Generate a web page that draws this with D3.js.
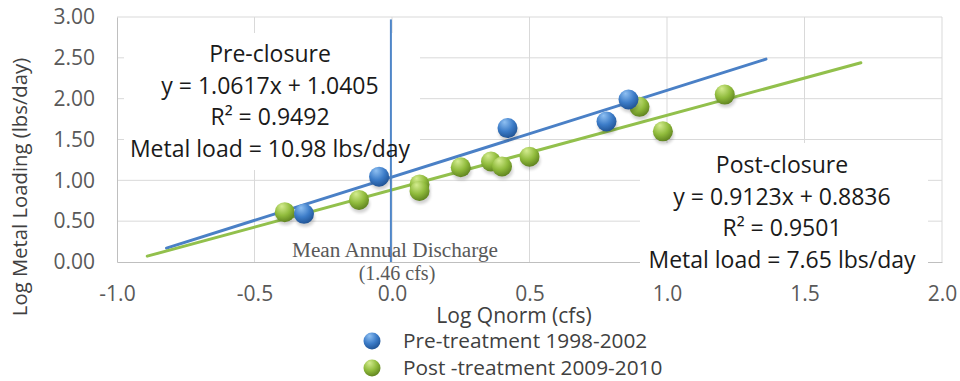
<!DOCTYPE html>
<html>
<head>
<meta charset="utf-8">
<script src="https://cdn.jsdelivr.net/npm/d3@7"></script>
<style>
html,body{margin:0;padding:0;background:#fff;}
svg{display:block;font-family:"Open Sans",sans-serif;}
</style>
</head>
<body>
<svg id="chart" width="960" height="381"></svg>
<script>
// ---- data ----
const preX = [-0.32, -0.047, 0.42, 0.78, 0.86];
const preY = [0.59, 1.045, 1.64, 1.72, 1.99];
const postX = [-0.39, -0.12, 0.10, 0.10, 0.25, 0.36, 0.40, 0.50, 0.90, 0.985, 1.21];
const postY = [0.61, 0.76, 0.95, 0.87, 1.16, 1.23, 1.17, 1.29, 1.90, 1.60, 2.05];
const preFit = {slope: 1.0617, intercept: 1.0405, x0: -0.82, x1: 1.36};
const postFit = {slope: 0.9123, intercept: 0.8836, x0: -0.89, x1: 1.705};
const meanDischargeX = -0.004;
const xTicks = [-1.0, -0.5, 0.0, 0.5, 1.0, 1.5, 2.0];
const yTicks = [0.0, 0.5, 1.0, 1.5, 2.0, 2.5, 3.0];
const preLabel = ["Pre-closure", "y = 1.0617x + 1.0405", "R² = 0.9492", "Metal load = 10.98 lbs/day"];
const postLabel = ["Post-closure", "y = 0.9123x + 0.8836", "R² = 0.9501", "Metal load = 7.65 lbs/day"];
const legendLabels = ["Pre-treatment 1998-2002", "Post -treatment 2009-2010"];

const svg = d3.select("#chart");
const x = d3.scaleLinear().domain([-1, 2]).range([117, 942]);
const y = d3.scaleLinear().domain([0, 3]).range([262, 17]);

// gradients
const defs = svg.append("defs");
function sphere(id, hi, base, dark) {
  const g = defs.append("radialGradient").attr("id", id)
    .attr("cx", "40%").attr("cy", "30%").attr("r", "75%").attr("fx", "35%").attr("fy", "20%");
  g.append("stop").attr("offset", "0%").attr("stop-color", hi);
  g.append("stop").attr("offset", "55%").attr("stop-color", base);
  g.append("stop").attr("offset", "100%").attr("stop-color", dark);
}
sphere("gBlue", "#8fc0f2", "#3c7cc8", "#1d4f8f");
sphere("gGreen", "#d4ec90", "#90bb3c", "#5a7d1c");
defs.append("filter").attr("id", "shadow").append("feGaussianBlur").attr("stdDeviation", 1.5);

// gridlines
const grid = svg.append("g");
grid.selectAll("line.h").data(yTicks.filter(d => d > 0)).join("line")
  .attr("x1", x(-1)).attr("x2", x(2)).attr("y1", d => y(d)).attr("y2", d => y(d))
  .attr("stroke", "#d9d9d9").attr("stroke-width", 1);
grid.selectAll("line.v").data(xTicks.filter(d => d > -1)).join("line")
  .attr("x1", d => x(d)).attr("x2", d => x(d)).attr("y1", y(0)).attr("y2", y(3))
  .attr("stroke", "#d9d9d9").attr("stroke-width", 1);

// axes
const yAxis = svg.append("g").attr("transform", `translate(${x(-1)},0)`)
  .call(d3.axisLeft(y).tickValues(yTicks).tickSize(0).tickPadding(22).tickFormat(d => d.toFixed(2)));
const xAxis = svg.append("g").attr("transform", `translate(0,${y(0)})`)
  .call(d3.axisBottom(x).tickValues(xTicks).tickSize(0).tickFormat(d => d.toFixed(1)));
[yAxis, xAxis].forEach(a => {
  a.select(".domain").attr("stroke", "#bfbfbf").attr("stroke-width", 1);
  a.selectAll("text").attr("fill", "#595959").attr("font-size", 21).attr("font-family", "Open Sans");
});
xAxis.selectAll("text").attr("y", 38.5).attr("dy", 0);

// annotation boxes
svg.append("rect").attr("x", 124).attr("y", 33).attr("width", 296).attr("height", 137).attr("fill", "#fff");
svg.append("rect").attr("x", 640).attr("y", 143).attr("width", 288).attr("height", 136).attr("fill", "#fff");

// trendlines
function fitLine(f, color) {
  svg.append("line")
    .attr("x1", x(f.x0)).attr("y1", y(f.slope * f.x0 + f.intercept))
    .attr("x2", x(f.x1)).attr("y2", y(f.slope * f.x1 + f.intercept))
    .attr("stroke", color).attr("stroke-width", 3).attr("stroke-linecap", "round");
}
fitLine(preFit, "#4a80c6");
fitLine(postFit, "#92c04c");

// mean discharge line
svg.append("line").attr("x1", x(meanDischargeX)).attr("x2", x(meanDischargeX))
  .attr("y1", y(0)).attr("y2", y(2.97)).attr("stroke", "#4f86c8").attr("stroke-width", 2);

// points
function points(xs, ys, grad) {
  const data = xs.map((v, i) => [v, ys[i]]);
  const g = svg.append("g");
  g.selectAll("ellipse").data(data).join("ellipse")
    .attr("cx", d => x(d[0]) + 1).attr("cy", d => y(d[1]) + 4).attr("rx", 10).attr("ry", 9)
    .attr("fill", "#000").attr("opacity", 0.18).attr("filter", "url(#shadow)");
  g.selectAll("circle").data(data).join("circle")
    .attr("cx", d => x(d[0])).attr("cy", d => y(d[1])).attr("r", 10)
    .attr("fill", `url(#${grad})`);
}
points(postX, postY, "gGreen");
points(preX, preY, "gBlue");

// annotation texts
function label(lines, cx, y0) {
  svg.append("g").selectAll("text").data(lines).join("text")
    .attr("x", cx).attr("y", (d, i) => y0 + i * 31.7)
    .attr("text-anchor", "middle").attr("font-size", 23).attr("fill", "#1a1a1a")
    .text(d => d);
}
label(preLabel, 270, 62);
label(postLabel, 782, 173);

// mean annual discharge text
svg.append("text").attr("x", 395).attr("y", 257).attr("text-anchor", "middle")
  .attr("font-family", "Liberation Serif").attr("font-size", 20).attr("fill", "#595959")
  .attr("textLength", 206).attr("lengthAdjust", "spacingAndGlyphs").text("Mean Annual Discharge");
svg.append("text").attr("x", 397).attr("y", 280).attr("text-anchor", "middle")
  .attr("font-family", "Liberation Serif").attr("font-size", 20).attr("fill", "#595959")
  .text("(1.46 cfs)");

// axis titles
svg.append("text").attr("transform", "translate(27,187) rotate(-90)").attr("text-anchor", "middle")
  .attr("font-size", 20.3).attr("fill", "#404040").text("Log Metal Loading (lbs/day)");
svg.append("text").attr("x", 514).attr("y", 323).attr("text-anchor", "middle")
  .attr("font-size", 21).attr("fill", "#404040").text("Log Qnorm (cfs)");

// legend
const lg = svg.append("g");
lg.selectAll("circle").data(legendLabels).join("circle")
  .attr("cx", 372).attr("cy", (d, i) => 341 + i * 27).attr("r", 8.5)
  .attr("fill", (d, i) => i === 0 ? "url(#gBlue)" : "url(#gGreen)");
lg.selectAll("text").data(legendLabels).join("text")
  .attr("x", 403).attr("y", (d, i) => 347.5 + i * 27)
  .attr("font-size", 20.8).attr("fill", "#404040").text(d => d);
</script>
</body>
</html>
